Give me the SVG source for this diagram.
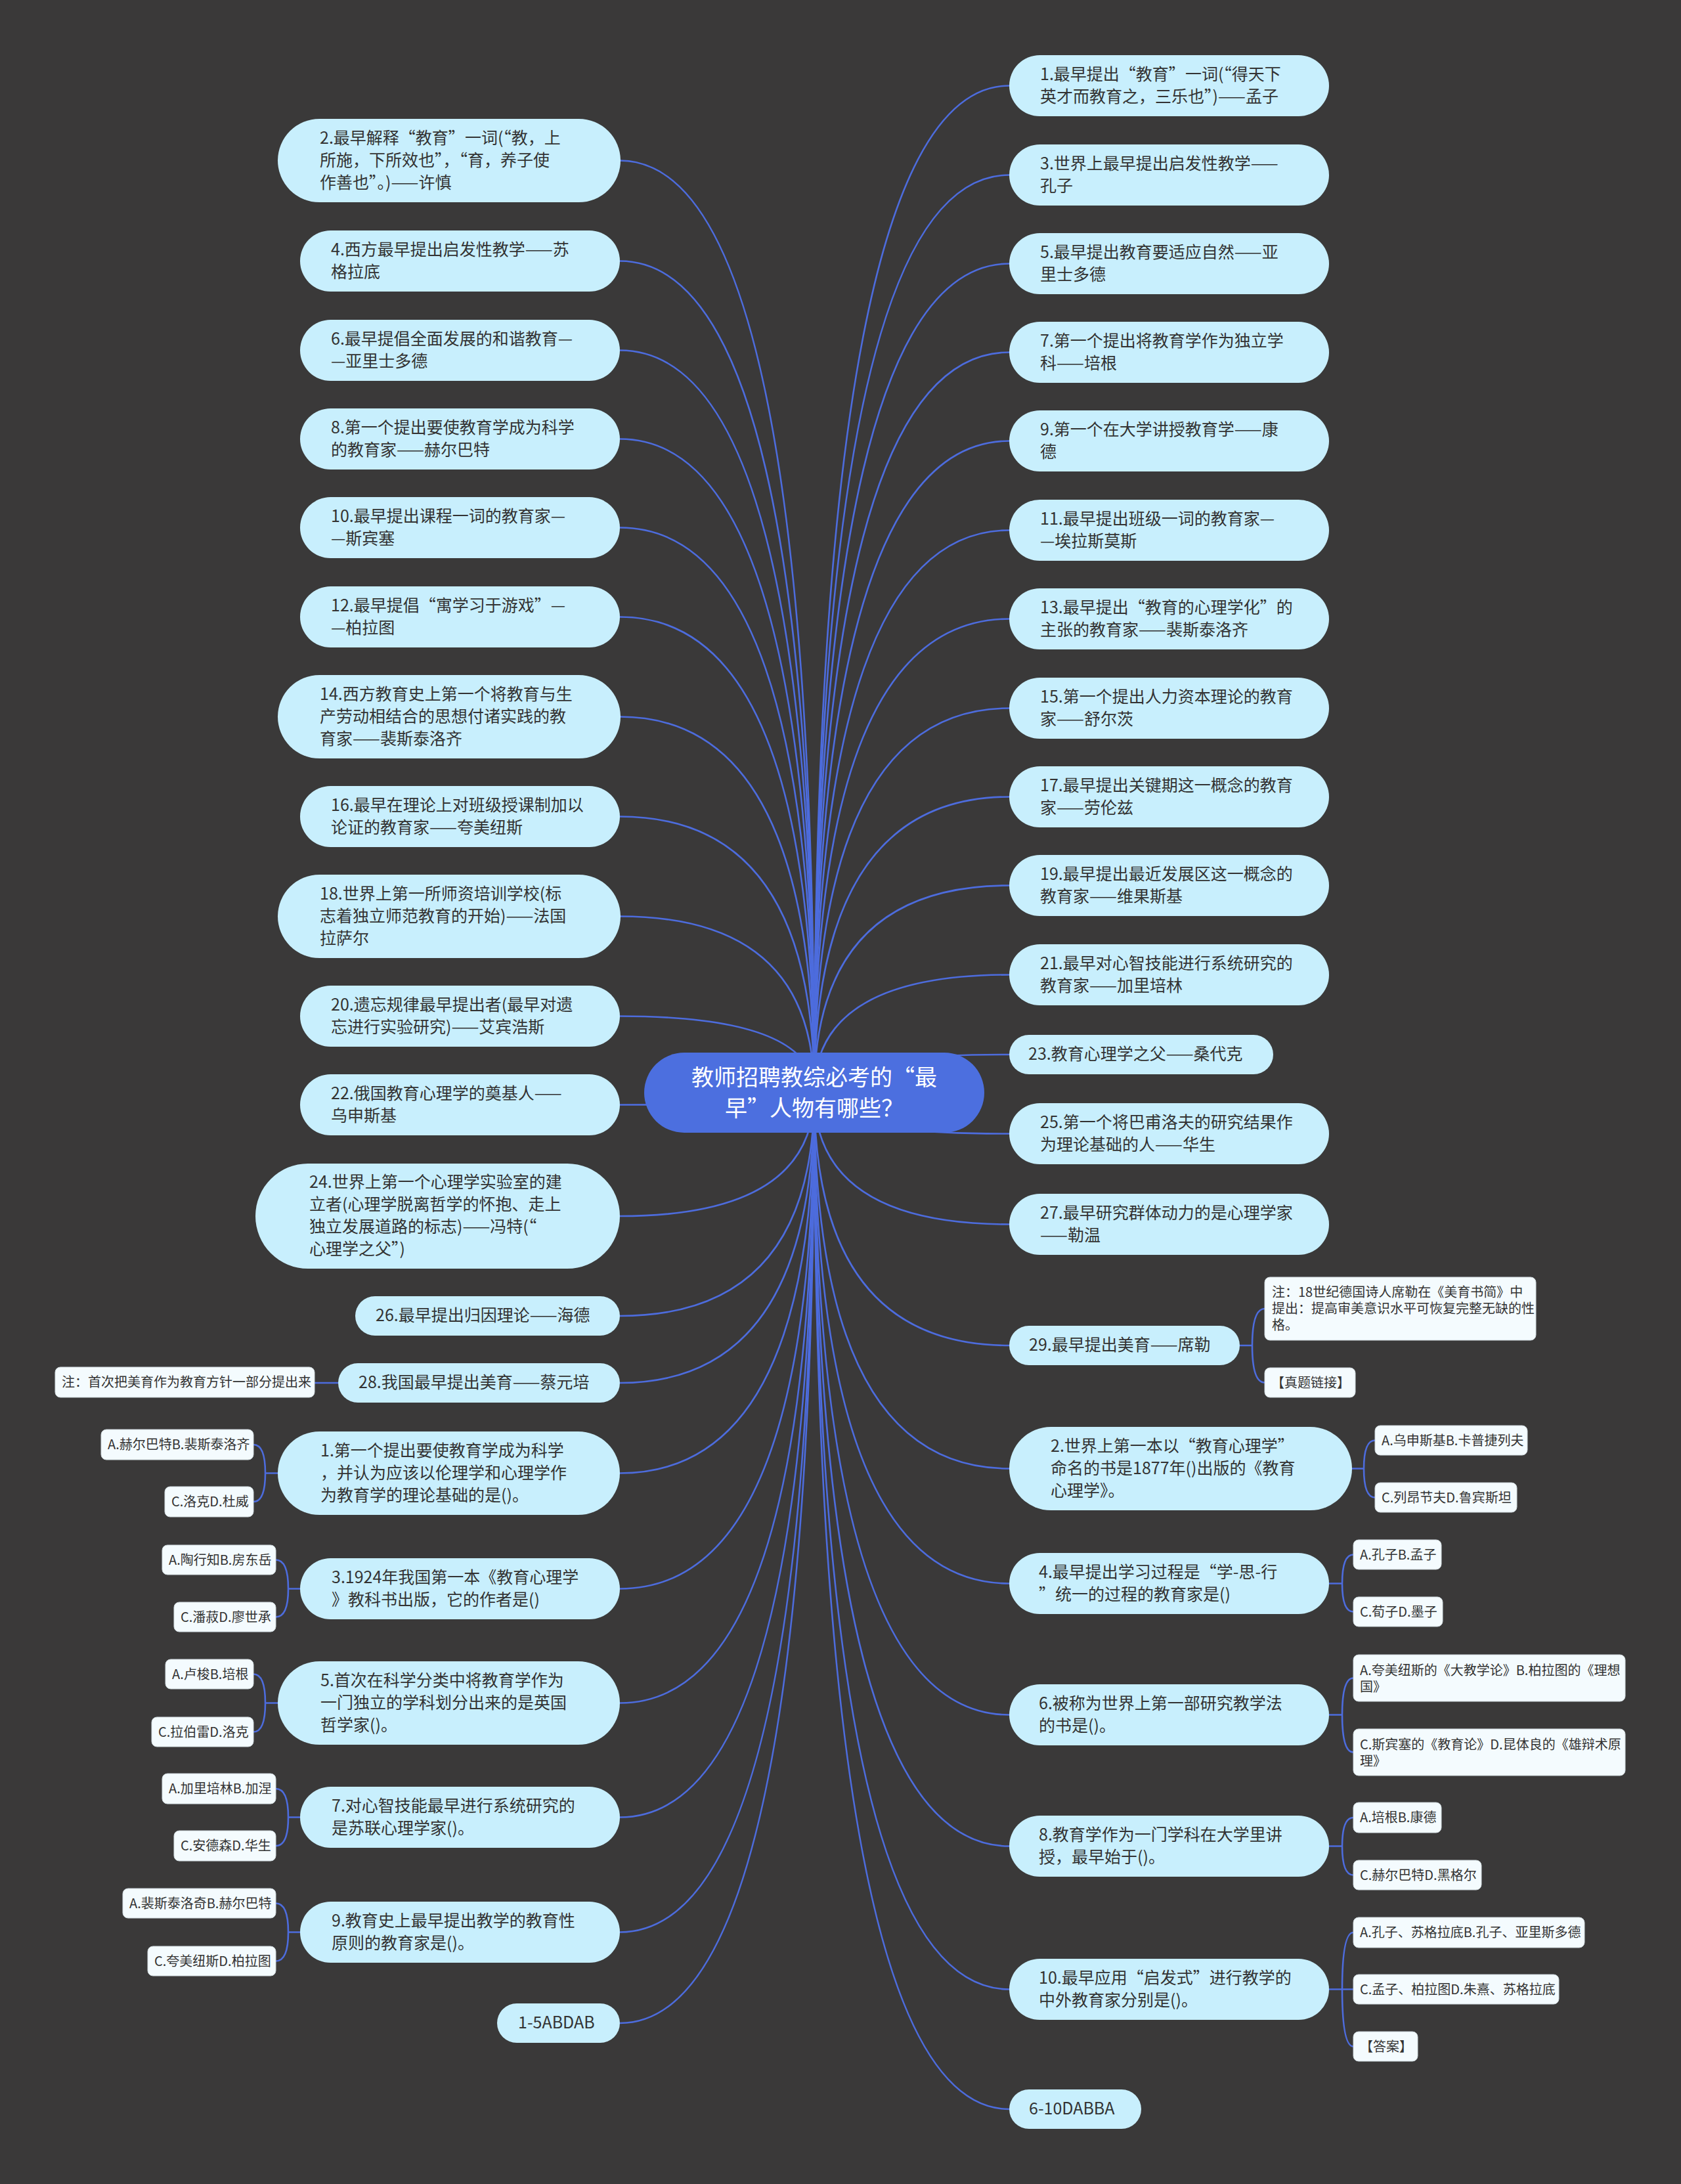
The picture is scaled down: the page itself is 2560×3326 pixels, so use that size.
<svg xmlns="http://www.w3.org/2000/svg" width="2560" height="3326" viewBox="0 0 2560 3326">
<style>
.n{fill:#c8effd}
.o{fill:#f4fbfe;stroke:#cfd9de;stroke-width:1}
.t{font-family:"Noto Sans CJK SC","Noto Sans",sans-serif;font-size:25px;fill:#333}
.ot{font-family:"Noto Sans CJK SC","Noto Sans",sans-serif;font-size:20px;fill:#333}
.ct{font-family:"Noto Sans CJK SC","Noto Sans",sans-serif;font-size:34px;fill:#fff;text-anchor:middle}
.q{font-feature-settings:"fwid" 1}
.l{fill:none;stroke:#4d6cdd;stroke-width:2.6}
</style>
<rect width="2560" height="3326" fill="#3a3939"/>
<g id="connectors" class="l">
<path d="M1240 1664Q1240 244.5 944 244.5"/>
<path d="M1240 1664Q1240 397.5 944 397.5"/>
<path d="M1240 1664Q1240 533.5 944 533.5"/>
<path d="M1240 1664Q1240 668.5 944 668.5"/>
<path d="M1240 1664Q1240 803.5 944 803.5"/>
<path d="M1240 1664Q1240 939.5 944 939.5"/>
<path d="M1240 1664Q1240 1091.5 944 1091.5"/>
<path d="M1240 1664Q1240 1243.5 944 1243.5"/>
<path d="M1240 1664Q1240 1395.5 944 1395.5"/>
<path d="M1240 1664Q1240 1547.5 944 1547.5"/>
<path d="M1240 1664Q1240 1682.5 944 1682.5"/>
<path d="M1240 1664Q1240 1852 944 1852"/>
<path d="M1240 1664Q1240 2004 944 2004"/>
<path d="M1240 1664Q1240 2106 944 2106"/>
<path d="M1240 1664Q1240 2243.5 944 2243.5"/>
<path d="M1240 1664Q1240 2419.5 944 2419.5"/>
<path d="M1240 1664Q1240 2593.5 944 2593.5"/>
<path d="M1240 1664Q1240 2767.5 944 2767.5"/>
<path d="M1240 1664Q1240 2942.5 944 2942.5"/>
<path d="M1240 1664Q1240 3081 944 3081"/>
<path d="M1240 1664Q1240 130.5 1537 130.5"/>
<path d="M1240 1664Q1240 266.5 1537 266.5"/>
<path d="M1240 1664Q1240 401.5 1537 401.5"/>
<path d="M1240 1664Q1240 536.5 1537 536.5"/>
<path d="M1240 1664Q1240 671.5 1537 671.5"/>
<path d="M1240 1664Q1240 807.5 1537 807.5"/>
<path d="M1240 1664Q1240 942.5 1537 942.5"/>
<path d="M1240 1664Q1240 1078.5 1537 1078.5"/>
<path d="M1240 1664Q1240 1213.5 1537 1213.5"/>
<path d="M1240 1664Q1240 1348.5 1537 1348.5"/>
<path d="M1240 1664Q1240 1484.5 1537 1484.5"/>
<path d="M1240 1664Q1240 1606 1537 1606"/>
<path d="M1240 1664Q1240 1726.5 1537 1726.5"/>
<path d="M1240 1664Q1240 1864.5 1537 1864.5"/>
<path d="M1240 1664Q1240 2049 1537 2049"/>
<path d="M1240 1664Q1240 2236.5 1537 2236.5"/>
<path d="M1240 1664Q1240 2411.5 1537 2411.5"/>
<path d="M1240 1664Q1240 2611.5 1537 2611.5"/>
<path d="M1240 1664Q1240 2811.5 1537 2811.5"/>
<path d="M1240 1664Q1240 3029.5 1537 3029.5"/>
<path d="M1240 1664Q1240 3212 1537 3212"/>
<path d="M515 2106H479"/>
<path d="M423 2243.5H404Q404 2200 386 2200M404 2243.5Q404 2287 386 2287"/>
<path d="M457 2419.5H439Q439 2375.5 420 2375.5M439 2419.5Q439 2462.5 420 2462.5"/>
<path d="M423 2593.5H404Q404 2549.5 386 2549.5M404 2593.5Q404 2637.5 386 2637.5"/>
<path d="M457 2767.5H439Q439 2724 420 2724M439 2767.5Q439 2811 420 2811"/>
<path d="M457 2942.5H439Q439 2898.5 420 2898.5M439 2942.5Q439 2986.5 420 2986.5"/>
<path d="M1888 2049H1907Q1907 1993 1926 1993M1907 2049Q1907 2105.5 1926 2105.5"/>
<path d="M2059 2236.5H2077Q2077 2193.5 2094 2193.5M2077 2236.5Q2077 2280.5 2094 2280.5"/>
<path d="M2024 2411.5H2044Q2044 2367.5 2061 2367.5M2044 2411.5Q2044 2454.5 2061 2454.5"/>
<path d="M2024 2611.5H2044Q2044 2555.5 2061 2555.5M2044 2611.5Q2044 2668.5 2061 2668.5"/>
<path d="M2024 2811.5H2044Q2044 2768 2061 2768M2044 2811.5Q2044 2855.5 2061 2855.5"/>
<path d="M2024 3029.5H2061M2044 3029.5Q2044 2943 2061 2943M2044 3029.5Q2044 3116.5 2061 3116.5"/>
</g>
<g id="center"><rect x="981" y="1603" width="518" height="122" rx="61" fill="#4c6fdf"/><text class="ct"><tspan x="1240" y="1653">教师招聘教综必考的<tspan class="q">“</tspan>最</tspan><tspan x="1240" y="1700">早<tspan class="q">”</tspan>人物有哪些？</tspan></text></g>
<g id="L1"><rect class="n" x="423" y="181" width="522" height="127" rx="63.5"/><text class="t"><tspan x="487" y="218.5">2.最早解释<tspan class="q">“</tspan>教育<tspan class="q">”</tspan>一词(<tspan class="q">“</tspan>教，上</tspan><tspan x="487" y="252.5">所施，下所效也<tspan class="q">”</tspan>，<tspan class="q">“</tspan>育，养子使</tspan><tspan x="487" y="286.5">作善也<tspan class="q">”</tspan>。)——许慎</tspan></text></g>
<g id="L2"><rect class="n" x="457" y="351" width="487" height="93" rx="46.5"/><text class="t"><tspan x="504" y="388.5">4.西方最早提出启发性教学——苏</tspan><tspan x="504" y="422.5">格拉底</tspan></text></g>
<g id="L3"><rect class="n" x="457" y="487" width="487" height="93" rx="46.5"/><text class="t"><tspan x="504" y="524.5">6.最早提倡全面发展的和谐教育—</tspan><tspan x="504" y="558.5">—亚里士多德</tspan></text></g>
<g id="L4"><rect class="n" x="457" y="622" width="487" height="93" rx="46.5"/><text class="t"><tspan x="504" y="659.5">8.第一个提出要使教育学成为科学</tspan><tspan x="504" y="693.5">的教育家——赫尔巴特</tspan></text></g>
<g id="L5"><rect class="n" x="457" y="757" width="487" height="93" rx="46.5"/><text class="t"><tspan x="504" y="794.5">10.最早提出课程一词的教育家—</tspan><tspan x="504" y="828.5">—斯宾塞</tspan></text></g>
<g id="L6"><rect class="n" x="457" y="893" width="487" height="93" rx="46.5"/><text class="t"><tspan x="504" y="930.5">12.最早提倡<tspan class="q">“</tspan>寓学习于游戏<tspan class="q">”</tspan>—</tspan><tspan x="504" y="964.5">—柏拉图</tspan></text></g>
<g id="L7"><rect class="n" x="423" y="1028" width="522" height="127" rx="63.5"/><text class="t"><tspan x="487" y="1065.5">14.西方教育史上第一个将教育与生</tspan><tspan x="487" y="1099.5">产劳动相结合的思想付诸实践的教</tspan><tspan x="487" y="1133.5">育家——裴斯泰洛齐</tspan></text></g>
<g id="L8"><rect class="n" x="457" y="1197" width="487" height="93" rx="46.5"/><text class="t"><tspan x="504" y="1234.5">16.最早在理论上对班级授课制加以</tspan><tspan x="504" y="1268.5">论证的教育家——夸美纽斯</tspan></text></g>
<g id="L9"><rect class="n" x="423" y="1332" width="522" height="127" rx="63.5"/><text class="t"><tspan x="487" y="1369.5">18.世界上第一所师资培训学校(标</tspan><tspan x="487" y="1403.5">志着独立师范教育的开始)——法国</tspan><tspan x="487" y="1437.5">拉萨尔</tspan></text></g>
<g id="L10"><rect class="n" x="457" y="1501" width="487" height="93" rx="46.5"/><text class="t"><tspan x="504" y="1538.5">20.遗忘规律最早提出者(最早对遗</tspan><tspan x="504" y="1572.5">忘进行实验研究)——艾宾浩斯</tspan></text></g>
<g id="L11"><rect class="n" x="457" y="1636" width="487" height="93" rx="46.5"/><text class="t"><tspan x="504" y="1673.5">22.俄国教育心理学的奠基人——</tspan><tspan x="504" y="1707.5">乌申斯基</tspan></text></g>
<g id="L12"><rect class="n" x="389" y="1772" width="555" height="160" rx="80"/><text class="t"><tspan x="471" y="1809">24.世界上第一个心理学实验室的建</tspan><tspan x="471" y="1843">立者(心理学脱离哲学的怀抱、走上</tspan><tspan x="471" y="1877">独立发展道路的标志)——冯特(<tspan class="q">“</tspan></tspan><tspan x="471" y="1911">心理学之父<tspan class="q">”</tspan>)</tspan></text></g>
<g id="L13"><rect class="n" x="541" y="1974" width="403" height="60" rx="30"/><text class="t" x="572" y="2012">26.最早提出归因理论——海德</text></g>
<g id="L14"><rect class="n" x="515" y="2076" width="429" height="60" rx="30"/><text class="t" x="546" y="2114">28.我国最早提出美育——蔡元培</text></g>
<g id="L14-note"><rect class="o" x="84" y="2082" width="395" height="46" rx="8"/><text class="ot" x="94" y="2112">注：首次把美育作为教育方针一部分提出来</text></g>
<g id="L15"><rect class="n" x="423" y="2180" width="521" height="127" rx="63.5"/><text class="t"><tspan x="488" y="2217.5">1.第一个提出要使教育学成为科学</tspan><tspan x="488" y="2251.5">，并认为应该以伦理学和心理学作</tspan><tspan x="488" y="2285.5">为教育学的理论基础的是()。</tspan></text></g>
<g id="L15-a"><rect class="o" x="154" y="2177" width="232" height="46" rx="8"/><text class="ot" x="164" y="2207">A.赫尔巴特B.裴斯泰洛齐</text></g>
<g id="L15-c"><rect class="o" x="251" y="2264" width="135" height="46" rx="8"/><text class="ot" x="261" y="2294">C.洛克D.杜威</text></g>
<g id="L16"><rect class="n" x="457" y="2373" width="487" height="93" rx="46.5"/><text class="t"><tspan x="505" y="2410.5">3.1924年我国第一本《教育心理学</tspan><tspan x="505" y="2444.5">》教科书出版，它的作者是()</tspan></text></g>
<g id="L16-a"><rect class="o" x="247" y="2353" width="173" height="45" rx="8"/><text class="ot" x="257" y="2382.5">A.陶行知B.房东岳</text></g>
<g id="L16-c"><rect class="o" x="265" y="2440" width="155" height="45" rx="8"/><text class="ot" x="275" y="2469.5">C.潘菽D.廖世承</text></g>
<g id="L17"><rect class="n" x="423" y="2530" width="521" height="127" rx="63.5"/><text class="t"><tspan x="488" y="2567.5">5.首次在科学分类中将教育学作为</tspan><tspan x="488" y="2601.5">一门独立的学科划分出来的是英国</tspan><tspan x="488" y="2635.5">哲学家()。</tspan></text></g>
<g id="L17-a"><rect class="o" x="252" y="2527" width="134" height="45" rx="8"/><text class="ot" x="262" y="2556.5">A.卢梭B.培根</text></g>
<g id="L17-c"><rect class="o" x="231" y="2615" width="155" height="45" rx="8"/><text class="ot" x="241" y="2644.5">C.拉伯雷D.洛克</text></g>
<g id="L18"><rect class="n" x="457" y="2721" width="487" height="93" rx="46.5"/><text class="t"><tspan x="505" y="2758.5">7.对心智技能最早进行系统研究的</tspan><tspan x="505" y="2792.5">是苏联心理学家()。</tspan></text></g>
<g id="L18-a"><rect class="o" x="247" y="2701" width="173" height="46" rx="8"/><text class="ot" x="257" y="2731">A.加里培林B.加涅</text></g>
<g id="L18-c"><rect class="o" x="265" y="2788" width="155" height="46" rx="8"/><text class="ot" x="275" y="2818">C.安德森D.华生</text></g>
<g id="L19"><rect class="n" x="457" y="2896" width="487" height="93" rx="46.5"/><text class="t"><tspan x="505" y="2933.5">9.教育史上最早提出教学的教育性</tspan><tspan x="505" y="2967.5">原则的教育家是()。</tspan></text></g>
<g id="L19-a"><rect class="o" x="187" y="2876" width="233" height="45" rx="8"/><text class="ot" x="197" y="2905.5">A.裴斯泰洛奇B.赫尔巴特</text></g>
<g id="L19-c"><rect class="o" x="225" y="2964" width="195" height="45" rx="8"/><text class="ot" x="235" y="2993.5">C.夸美纽斯D.柏拉图</text></g>
<g id="L20"><rect class="n" x="757" y="3051" width="187" height="60" rx="30"/><text class="t" x="789" y="3089">1-5ABDAB</text></g>
<g id="R1"><rect class="n" x="1537" y="84" width="487" height="93" rx="46.5"/><text class="t"><tspan x="1584" y="121.5">1.最早提出<tspan class="q">“</tspan>教育<tspan class="q">”</tspan>一词(<tspan class="q">“</tspan>得天下</tspan><tspan x="1584" y="155.5">英才而教育之，三乐也<tspan class="q">”</tspan>)——孟子</tspan></text></g>
<g id="R2"><rect class="n" x="1537" y="220" width="487" height="93" rx="46.5"/><text class="t"><tspan x="1584" y="257.5">3.世界上最早提出启发性教学——</tspan><tspan x="1584" y="291.5">孔子</tspan></text></g>
<g id="R3"><rect class="n" x="1537" y="355" width="487" height="93" rx="46.5"/><text class="t"><tspan x="1584" y="392.5">5.最早提出教育要适应自然——亚</tspan><tspan x="1584" y="426.5">里士多德</tspan></text></g>
<g id="R4"><rect class="n" x="1537" y="490" width="487" height="93" rx="46.5"/><text class="t"><tspan x="1584" y="527.5">7.第一个提出将教育学作为独立学</tspan><tspan x="1584" y="561.5">科——培根</tspan></text></g>
<g id="R5"><rect class="n" x="1537" y="625" width="487" height="93" rx="46.5"/><text class="t"><tspan x="1584" y="662.5">9.第一个在大学讲授教育学——康</tspan><tspan x="1584" y="696.5">德</tspan></text></g>
<g id="R6"><rect class="n" x="1537" y="761" width="487" height="93" rx="46.5"/><text class="t"><tspan x="1584" y="798.5">11.最早提出班级一词的教育家—</tspan><tspan x="1584" y="832.5">—埃拉斯莫斯</tspan></text></g>
<g id="R7"><rect class="n" x="1537" y="896" width="487" height="93" rx="46.5"/><text class="t"><tspan x="1584" y="933.5">13.最早提出<tspan class="q">“</tspan>教育的心理学化<tspan class="q">”</tspan>的</tspan><tspan x="1584" y="967.5">主张的教育家——裴斯泰洛齐</tspan></text></g>
<g id="R8"><rect class="n" x="1537" y="1032" width="487" height="93" rx="46.5"/><text class="t"><tspan x="1584" y="1069.5">15.第一个提出人力资本理论的教育</tspan><tspan x="1584" y="1103.5">家——舒尔茨</tspan></text></g>
<g id="R9"><rect class="n" x="1537" y="1167" width="487" height="93" rx="46.5"/><text class="t"><tspan x="1584" y="1204.5">17.最早提出关键期这一概念的教育</tspan><tspan x="1584" y="1238.5">家——劳伦兹</tspan></text></g>
<g id="R10"><rect class="n" x="1537" y="1302" width="487" height="93" rx="46.5"/><text class="t"><tspan x="1584" y="1339.5">19.最早提出最近发展区这一概念的</tspan><tspan x="1584" y="1373.5">教育家——维果斯基</tspan></text></g>
<g id="R11"><rect class="n" x="1537" y="1438" width="487" height="93" rx="46.5"/><text class="t"><tspan x="1584" y="1475.5">21.最早对心智技能进行系统研究的</tspan><tspan x="1584" y="1509.5">教育家——加里培林</tspan></text></g>
<g id="R12"><rect class="n" x="1537" y="1576" width="402" height="60" rx="30"/><text class="t" x="1566" y="1614">23.教育心理学之父——桑代克</text></g>
<g id="R13"><rect class="n" x="1537" y="1680" width="487" height="93" rx="46.5"/><text class="t"><tspan x="1584" y="1717.5">25.第一个将巴甫洛夫的研究结果作</tspan><tspan x="1584" y="1751.5">为理论基础的人——华生</tspan></text></g>
<g id="R14"><rect class="n" x="1537" y="1818" width="487" height="93" rx="46.5"/><text class="t"><tspan x="1584" y="1855.5">27.最早研究群体动力的是心理学家</tspan><tspan x="1584" y="1889.5">——勒温</tspan></text></g>
<g id="R15"><rect class="n" x="1537" y="2019" width="351" height="60" rx="30"/><text class="t" x="1567" y="2057">29.最早提出美育——席勒</text></g>
<g id="R15-note"><rect class="o" x="1926" y="1945" width="413" height="96" rx="8"/><text class="ot"><tspan x="1937" y="1975">注：18世纪德国诗人席勒在《美育书简》中</tspan><tspan x="1937" y="2000">提出：提高审美意识水平可恢复完整无缺的性</tspan><tspan x="1937" y="2025">格。</tspan></text></g>
<g id="R15-link"><rect class="o" x="1926" y="2083" width="138" height="45" rx="8"/><text class="ot" x="1936" y="2112.5">【真题链接】</text></g>
<g id="R16"><rect class="n" x="1537" y="2173" width="522" height="127" rx="63.5"/><text class="t"><tspan x="1600" y="2210.5">2.世界上第一本以<tspan class="q">“</tspan>教育心理学<tspan class="q">”</tspan></tspan><tspan x="1600" y="2244.5">命名的书是1877年()出版的《教育</tspan><tspan x="1600" y="2278.5">心理学》。</tspan></text></g>
<g id="R16-a"><rect class="o" x="2094" y="2171" width="232" height="45" rx="8"/><text class="ot" x="2104" y="2200.5">A.乌申斯基B.卡普捷列夫</text></g>
<g id="R16-c"><rect class="o" x="2094" y="2258" width="216" height="45" rx="8"/><text class="ot" x="2104" y="2287.5">C.列昂节夫D.鲁宾斯坦</text></g>
<g id="R17"><rect class="n" x="1537" y="2365" width="487" height="93" rx="46.5"/><text class="t"><tspan x="1582" y="2402.5">4.最早提出学习过程是<tspan class="q">“</tspan>学-思-行</tspan><tspan x="1582" y="2436.5"><tspan class="q">”</tspan>统一的过程的教育家是()</tspan></text></g>
<g id="R17-a"><rect class="o" x="2061" y="2345" width="134" height="45" rx="8"/><text class="ot" x="2071" y="2374.5">A.孔子B.孟子</text></g>
<g id="R17-c"><rect class="o" x="2061" y="2432" width="136" height="45" rx="8"/><text class="ot" x="2071" y="2461.5">C.荀子D.墨子</text></g>
<g id="R18"><rect class="n" x="1537" y="2565" width="487" height="93" rx="46.5"/><text class="t"><tspan x="1582" y="2602.5">6.被称为世界上第一部研究教学法</tspan><tspan x="1582" y="2636.5">的书是()。</tspan></text></g>
<g id="R18-a"><rect class="o" x="2061" y="2520" width="414" height="71" rx="8"/><text class="ot"><tspan x="2071" y="2551">A.夸美纽斯的《大教学论》B.柏拉图的《理想</tspan><tspan x="2071" y="2576">国》</tspan></text></g>
<g id="R18-c"><rect class="o" x="2061" y="2633" width="414" height="71" rx="8"/><text class="ot"><tspan x="2071" y="2664">C.斯宾塞的《教育论》D.昆体良的《雄辩术原</tspan><tspan x="2071" y="2689">理》</tspan></text></g>
<g id="R19"><rect class="n" x="1537" y="2765" width="487" height="93" rx="46.5"/><text class="t"><tspan x="1582" y="2802.5">8.教育学作为一门学科在大学里讲</tspan><tspan x="1582" y="2836.5">授，最早始于()。</tspan></text></g>
<g id="R19-a"><rect class="o" x="2061" y="2745" width="134" height="46" rx="8"/><text class="ot" x="2071" y="2775">A.培根B.康德</text></g>
<g id="R19-c"><rect class="o" x="2061" y="2833" width="195" height="45" rx="8"/><text class="ot" x="2071" y="2862.5">C.赫尔巴特D.黑格尔</text></g>
<g id="R20"><rect class="n" x="1537" y="2983" width="487" height="93" rx="46.5"/><text class="t"><tspan x="1582" y="3020.5">10.最早应用<tspan class="q">“</tspan>启发式<tspan class="q">”</tspan>进行教学的</tspan><tspan x="1582" y="3054.5">中外教育家分别是()。</tspan></text></g>
<g id="R20-a"><rect class="o" x="2061" y="2920" width="352" height="46" rx="8"/><text class="ot" x="2071" y="2950">A.孔子、苏格拉底B.孔子、亚里斯多德</text></g>
<g id="R20-c"><rect class="o" x="2061" y="3007" width="313" height="45" rx="8"/><text class="ot" x="2071" y="3036.5">C.孟子、柏拉图D.朱熹、苏格拉底</text></g>
<g id="R20-ans"><rect class="o" x="2061" y="3094" width="98" height="45" rx="8"/><text class="ot" x="2071" y="3123.5">【答案】</text></g>
<g id="R21"><rect class="n" x="1537" y="3182" width="201" height="60" rx="30"/><text class="t" x="1567" y="3220">6-10DABBA</text></g>
</svg>
